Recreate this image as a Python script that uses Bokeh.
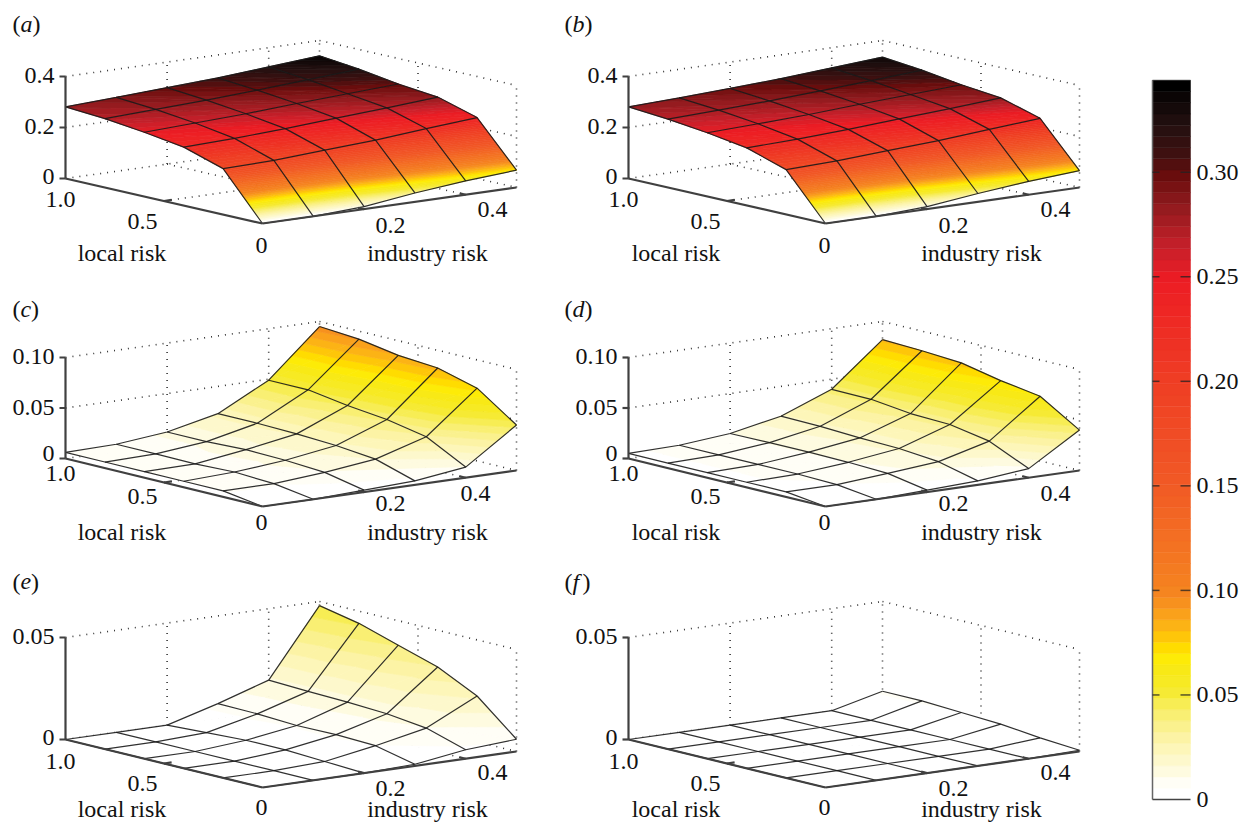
from bokeh.plotting import figure
from bokeh.models import ColumnDataSource, Range1d
from bokeh.core.properties import value
from bokeh.embed import file_html
from bokeh.resources import INLINE

# ---- data: rows are local risk 0, .2, .4, .6, .8, 1; columns industry risk 0 ... .5
LOCAL = [0.0, 0.2, 0.4, 0.6, 0.8, 1.0]
INDUSTRY = [0.0, 0.1, 0.2, 0.3, 0.4, 0.5]
Z_A = [[0, 0, .010, .035, .054, .068],
       [.180, .184, .196, .207, .224, .239],
       [.229, .235, .245, .258, .270, .284],
       [.252, .260, .268, .280, .290, .300],
       [.270, .278, .286, .297, .310, .323],
       [.281, .290, .300, .310, .325, .340]]
Z_B = [[0, 0, .010, .033, .052, .066],
       [.176, .182, .194, .205, .221, .236],
       [.226, .232, .242, .255, .267, .281],
       [.250, .257, .265, .277, .287, .297],
       [.268, .275, .283, .294, .306, .319],
       [.281, .288, .297, .307, .321, .335]]
Z_C = [[0, 0, .002, .004, .0105, .045],
       [.006, .006, .010, .016, .031, .072],
       [.006, .008, .0125, .020, .0386, .0825],
       [.006, .0066, .0135, .022, .043, .0855],
       [.006, .007, .012, .023, .049, .092],
       [.006, .007, .012, .023, .049, .095]]
Z_D = [[0, 0, .002, .004, .009, .040],
       [.005, .005, .009, .0135, .0267, .064],
       [.005, .006, .0105, .017, .0337, .070],
       [.005, .006, .011, .018, .035, .078],
       [.005, .006, .011, .020, .0396, .0805],
       [.005, .006, .0105, .0205, .040, .082]]
Z_E = [[0, 0, 0, .0008, .0044, .006],
       [0, 0, .001, .0052, .0103, .0225],
       [0, 0, .002, .0059, .0126, .032],
       [0, 0, .002, .0057, .0136, .038],
       [0, 0, .001, .0067, .0142, .044],
       [0, 0, 0, .007, .015, .048]]
Z_F = [[0, 0, 0, 0, 0, .0006],
       [0, 0, 0, 0, 0, .002],
       [0, 0, 0, 0, 0, .004],
       [0, 0, 0, 0, 0, .005],
       [0, 0, 0, 0, 0, .006],
       [0, 0, 0, 0, 0, .006]]
Z_TICKS_TOP = [0, .2, .4]
Z_TICK_LABELS_TOP = ["0", "0.2", "0.4"]
Z_TICKS_MID = [0, .05, .10]
Z_TICK_LABELS_MID = ["0", "0.05", "0.10"]
Z_TICKS_LOW = [0, .05]
Z_TICK_LABELS_LOW = ["0", "0.05"]
BAR_TICKS = [0, .05, .10, .15, .20, .25, .30]
BAR_LABELS = ["0", "0.05", "0.10", "0.15", "0.20", "0.25", "0.30"]
Z_MAX = 0.344
N_LEVELS = 64
COLOR_ANCHORS = [(0, "#ffffff"), (.0055, "#fffef6"), (.01, "#fefbe3"), (.02, "#fdf7bf"), (.03, "#fbf29c"),
                 (.04, "#f8ee6a"), (.05, "#f6ea2f"), (.06, "#f8e916"), (.068, "#ffec00"), (.073, "#ffd200"),
                 (.08, "#fdb913"), (.087, "#faa21b"), (.095, "#f68b1f"), (.10, "#f58220"), (.15, "#f15a25"),
                 (.20, "#ef3e24"), (.25, "#ed1c24"), (.265, "#c8202a"), (.286, "#8f1a1e"), (.30, "#6a0d0d"),
                 (.31, "#401010"), (.325, "#231010"), (.335, "#120808"), (.344, "#000000")]

# ---- layout
W, H = 1249, 822
SERIF = value("Liberation Serif")
FS = "24px"
F0, L0, R0 = (262, 223), (65, 178), (516, 187)
PANELS = [
    dict(z=Z_A, dx=0, dy=0, dyf=0, k=255, ticks=Z_TICKS_TOP, labs=Z_TICK_LABELS_TOP, zt=.4, name="a", d04=0,
         tag=23, ty=(199, 221, 245, 225, 209), title=252, zero=-2),
    dict(z=Z_B, dx=563, dy=0, dyf=0, k=255, ticks=Z_TICKS_TOP, labs=Z_TICK_LABELS_TOP, zt=.4, name="b", d04=0,
         tag=23, ty=(199, 221, 245, 225, 209), title=252, zero=-2),
    dict(z=Z_C, dx=0, dy=280, dyf=283, k=1010, ticks=Z_TICKS_MID, labs=Z_TICK_LABELS_MID, zt=.1, name="c", d04=-17,
         tag=308, ty=(473, 496, 522, 503, 493), title=531, zero=-5),
    dict(z=Z_D, dx=563, dy=280, dyf=283, k=1010, ticks=Z_TICKS_MID, labs=Z_TICK_LABELS_MID, zt=.1, name="d", d04=0,
         tag=308, ty=(473, 496, 522, 503, 493), title=531, zero=-5),
    dict(z=Z_E, dx=0, dy=561, dyf=564, k=2040, ticks=Z_TICKS_LOW, labs=Z_TICK_LABELS_LOW, zt=.05, name="e", d04=0,
         tag=581, ty=(761, 783, 807, 788, 772), title=808, zero=-2),
    dict(z=Z_F, dx=563, dy=561, dyf=564, k=2040, ticks=Z_TICKS_LOW, labs=Z_TICK_LABELS_LOW, zt=.05, name="f", d04=0,
         tag=581, ty=(761, 783, 807, 788, 772), title=808, zero=-2),
]
LETTER_W = dict(a=12, b=12, c=10.6, d=12, e=10.6, f=10)
FLOOR_LABELS = ["1.0", "0.5", "0", "0.2", "0.4"]
FLOOR_X = [60, 142, 261, 390, 492]


def hex2rgb(h):
    return tuple(int(h[i:i + 2], 16) for i in (1, 3, 5))


def ramp(v):
    for (a, ca), (b, cb) in zip(COLOR_ANCHORS, COLOR_ANCHORS[1:]):
        if v <= b:
            t = (v - a) / (b - a)
            ra, rb = hex2rgb(ca), hex2rgb(cb)
            return "#%02x%02x%02x" % tuple(round(x + (y - x) * t) for x, y in zip(ra, rb))
    return COLOR_ANCHORS[-1][1]


step = Z_MAX / N_LEVELS
PALETTE = [ramp(i / (N_LEVELS - 1) * Z_MAX) for i in range(N_LEVELS)]
PALETTE[0] = "#ffffff"


def project(pn, loc, ind, z=0.0):
    x = F0[0] + (L0[0] - F0[0]) * loc + (R0[0] - F0[0]) * ind / .5 + pn["dx"]
    yf = F0[1] + pn["dyf"]
    yl = L0[1] + pn["dy"]
    yr = R0[1] + pn["dyf"]
    y = yf + (yl - yf) * loc + (yr - yf) * ind / .5 - pn["k"] * z
    return x, y


def clip(poly, lo, hi):
    """Clip a triangle/polygon of (loc, ind, z) points to lo <= z <= hi."""
    def half(points, keep, limit):
        out = []
        for i, a in enumerate(points):
            b = points[(i + 1) % len(points)]
            ka, kb = keep(a[2]), keep(b[2])
            if ka:
                out.append(a)
            if ka != kb:
                t = (limit - a[2]) / (b[2] - a[2])
                out.append(tuple(a[j] + (b[j] - a[j]) * t for j in range(3)))
        return out
    p1 = half(poly, lambda z: z >= lo, lo)
    return half(p1, lambda z: z <= hi, hi) if p1 else []


p = figure(width=W, height=H, x_range=Range1d(0, W), y_range=Range1d(H, 0),
           output_backend="svg", toolbar_location=None, min_border=0, outline_line_color=None,
           background_fill_color="white")
p.axis.visible = False
p.grid.visible = False

DOT = dict(line_color="#333333", line_width=1.6, line_dash="1 6")
AX = dict(line_color="#404040", line_width=2.2)
TXT = dict(text_font=SERIF, text_font_size=FS, text_color="#111111", text_baseline="middle")


def seg(pn, a, b, **kw):
    xa, ya = project(pn, *a)
    xb, yb = project(pn, *b)
    p.line([xa, xb], [ya, yb], **kw)


for pn in PANELS:
    zt = pn["zt"]
    # dotted box and grids
    for t in pn["ticks"]:
        if t > 0:
            seg(pn, (1, 0, t), (1, .5, t), **DOT)
            seg(pn, (1, .5, t), (0, .5, t), **DOT)
    for i in (.2, .4):
        seg(pn, (1, i, 0), (1, i, zt), **DOT)
        seg(pn, (1, i, 0), (0, i, 0), **DOT)
    seg(pn, (.5, .5, 0), (.5, .5, zt), **DOT)
    seg(pn, (.5, 0, 0), (.5, .5, 0), **DOT)
    seg(pn, (1, .5, 0), (1, .5, zt), **DOT)
    seg(pn, (0, .5, 0), (0, .5, zt), **DOT)
    seg(pn, (1, 0, 0), (1, .5, 0), **DOT)
    seg(pn, (1, .5, 0), (0, .5, 0), **DOT)

    # surface, painted back to front, split in colour bands
    xs, ys, cols = [], [], []
    Z = pn["z"]
    for r in range(4, -1, -1):
        for c in range(4, -1, -1):
            q = [(LOCAL[r + 1], INDUSTRY[c], Z[r + 1][c]), (LOCAL[r + 1], INDUSTRY[c + 1], Z[r + 1][c + 1]),
                 (LOCAL[r], INDUSTRY[c + 1], Z[r][c + 1]), (LOCAL[r], INDUSTRY[c], Z[r][c])]
            for tri in ([q[0], q[1], q[2]], [q[0], q[2], q[3]]):
                lo_band = int(min(v[2] for v in tri) / step)
                hi_band = min(int(max(v[2] for v in tri) / step), N_LEVELS - 1)
                for b in range(lo_band, hi_band + 1):
                    poly = clip(tri, b * step, (b + 1) * step)
                    if len(poly) < 3:
                        continue
                    pts = [project(pn, *v) for v in poly]
                    xs.append([a[0] for a in pts])
                    ys.append([a[1] for a in pts])
                    cols.append(PALETTE[b])
    p.patches(xs="xs", ys="ys", fill_color="c", line_color="c", line_width=0.7,
              source=ColumnDataSource(dict(xs=xs, ys=ys, c=cols)))

    # mesh
    for r in range(6):
        pts = [project(pn, LOCAL[r], INDUSTRY[c], Z[r][c]) for c in range(6)]
        p.line([a[0] for a in pts], [a[1] for a in pts], line_color="#1a1a1a", line_width=1.2, line_alpha=.9)
    for c in range(6):
        pts = [project(pn, LOCAL[r], INDUSTRY[c], Z[r][c]) for r in range(6)]
        p.line([a[0] for a in pts], [a[1] for a in pts], line_color="#1a1a1a", line_width=1.2, line_alpha=.9)

    # solid axes
    seg(pn, (1, 0, 0), (1, 0, zt), **AX)
    seg(pn, (1, 0, 0), (0, 0, 0), **AX)
    seg(pn, (0, 0, 0), (0, .5, 0), **AX)
    # small floor ticks
    for a, b in (((.5, 0, 0), (.5, .015, 0)), ((0, .2, 0), (.03, .2, 0)), ((0, .4, 0), (.03, .4, 0))):
        seg(pn, a, b, **AX)

    # z ticks and labels
    lx, ly = project(pn, 1, 0, 0)
    for t, lab in zip(pn["ticks"], pn["labs"]):
        _, ty = project(pn, 1, 0, t)
        p.line([lx - 6, lx], [ty, ty], **AX)
        p.text([lx - 11], [ty + (pn["zero"] if t == 0 else -1)], text=[lab], text_align="right", **TXT)

    # floor labels
    dx = pn["dx"]
    for lab, tx, ty in zip(FLOOR_LABELS, FLOOR_X, pn["ty"]):
        if lab == "0.4":
            tx += pn["d04"]
        p.text([tx + dx], [ty], text=[lab], text_align="center", **TXT)
    tdx = 0 if dx == 0 else 554
    p.text([121.5 + tdx], [pn["title"]], text=["local risk"], text_align="center", **TXT)
    p.text([427 + tdx], [pn["title"]], text=["industry risk"], text_align="center", **TXT)

    # panel tag, upright brackets and italic letter
    x0 = 12 + (552 if dx else 0)
    y0 = pn["tag"]
    p.text([x0], [y0], text=["("], **TXT)
    p.text([x0 + 8], [y0], text=[pn["name"]], text_font_style="italic", **TXT)
    p.text([x0 + 8 + LETTER_W[pn["name"]]], [y0], text=[")"], **TXT)

# ---- colour bar


def bar_y(v):
    return 799 - 2091 * v


BX0, BX1 = 1152, 1190
p.quad(left=[BX0] * N_LEVELS, right=[BX1] * N_LEVELS,
       bottom=[bar_y(i * step) for i in range(N_LEVELS)], top=[bar_y((i + 1) * step) for i in range(N_LEVELS)],
       fill_color=PALETTE, line_color=PALETTE, line_width=0.5)
p.line([BX0, BX0], [bar_y(0), bar_y(Z_MAX)], line_color="#666666", line_width=1.5)
p.line([BX0, BX1], [bar_y(0), bar_y(0)], line_color="#444444", line_width=1.5)
for v, lab in zip(BAR_TICKS, BAR_LABELS):
    if v > 0:
        p.line([BX0, BX0 + 7], [bar_y(v), bar_y(v)], line_color="#222222", line_alpha=.75, line_width=1.5)
        p.line([BX1 - 10, BX1], [bar_y(v), bar_y(v)], line_color="#222222", line_alpha=.75, line_width=1.5)
    p.text([1196], [bar_y(v)], text=[lab], text_align="left", **TXT)

open("out.html", "w").write(file_html(p, INLINE))
